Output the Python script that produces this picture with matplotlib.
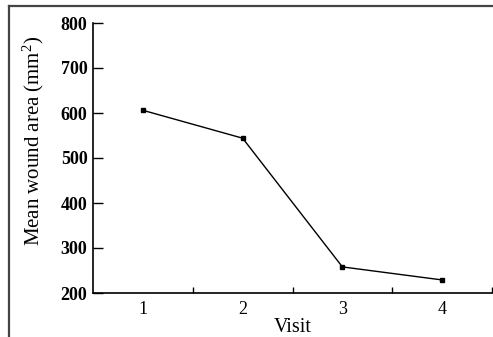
import matplotlib
matplotlib.use("Agg")
import matplotlib.pyplot as plt
from matplotlib.lines import Line2D

visits = [1, 2, 3, 4]
visit_labels = ["1", "2", "3", "4"]
mean_area = [606, 544, 258, 229]
y_ticks = [200, 300, 400, 500, 600, 700, 800]

plt.rcParams['font.family'] = ['Liberation Serif', 'DejaVu Serif']
plt.rcParams['mathtext.fontset'] = 'custom'
plt.rcParams['mathtext.rm'] = 'Liberation Serif'
plt.rcParams['mathtext.it'] = 'Liberation Serif:italic'
plt.rcParams['mathtext.bf'] = 'Liberation Serif:bold'

W, H = 493, 337
fig = plt.figure(figsize=(W / 100, H / 100), dpi=100)

# outer frame (top and left edges)
fig.add_artist(Line2D([9 / W, 9 / W], [0, 1 - 6 / H], color='#444444', lw=1.6, transform=fig.transFigure))
fig.add_artist(Line2D([9 / W, 492 / W], [1 - 6 / H, 1 - 6 / H], color='#444444', lw=1.6, transform=fig.transFigure))

ax = fig.add_axes([93 / W, (H - 293) / H, (492 - 93) / W, (293 - 23) / H])
ax.plot(visits, mean_area, color='black', lw=1.0, marker='s', markersize=3.3)

ax.set_xlim(0.5, 4.5)
ax.set_ylim(200, 800)
for s in ['top', 'right']:
    ax.spines[s].set_visible(False)
for s in ['left', 'bottom']:
    ax.spines[s].set_linewidth(1.2)

ax.set_yticks(y_ticks)
ax.set_yticklabels([str(v) for v in y_ticks], fontweight='bold', fontsize=13)
ax.tick_params(axis='y', direction='in', length=7, width=1, pad=4)

ax.set_xticks([1.5, 2.5, 3.5, 4.5])
ax.set_xticklabels([])
ax.tick_params(axis='x', which='major', direction='in', length=4.5, width=1)
ax.set_xticks(visits, minor=True)
ax.set_xticklabels(visit_labels, minor=True, fontsize=13)
ax.tick_params(axis='x', which='minor', length=0, pad=6)

ax.set_xlabel('Visit', fontsize=14.5)
ax.xaxis.set_label_coords(0.5, -0.094)
ax.set_ylabel(r'Mean wound area (mm$^2$)', fontsize=15)
ax.yaxis.set_label_coords(-0.117, 0.565)

fig.savefig('out.png', dpi=100)
